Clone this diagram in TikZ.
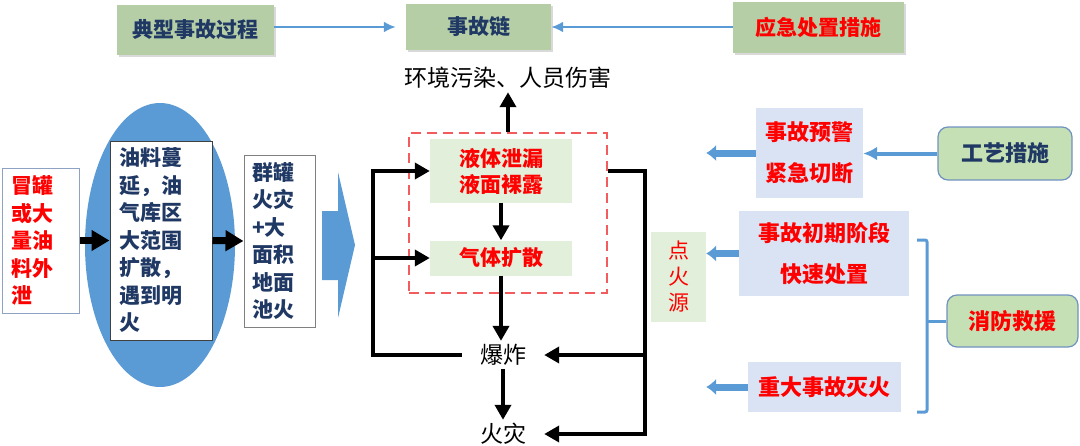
\documentclass[tikz,border=0pt]{standalone}
\usepackage{fontspec}
\setmainfont{Noto Sans CJK SC}
\usetikzlibrary{arrows.meta,shadows}
\definecolor{sage}{HTML}{B5CEA6}
\definecolor{navy}{HTML}{1F3864}
\definecolor{eblue}{HTML}{5B9BD5}
\definecolor{lgreen}{HTML}{E2EFDA}
\definecolor{lblue}{HTML}{DAE3F3}
\definecolor{rgreen}{HTML}{C5E0B4}
\definecolor{rborder}{HTML}{6F93C0}
\definecolor{dred}{HTML}{F25C5C}
\definecolor{lgrey}{HTML}{8EA2C4}

\begin{document}
\begin{tikzpicture}[x=1pt,y=-1pt,
  bf/.style={font=\fontsize{#1}{27.5}\selectfont\bfseries},
  hd/.style={fill=sage,minimum height=50pt,bf=21,drop shadow={shadow xshift=1.5pt,shadow yshift=-2pt,opacity=.3}},
  plain/.style={font=\fontsize{23}{27}\selectfont,inner xsep=18pt},
  box/.style={bf=21,align=left,inner xsep=10pt,line width=1pt},
  grn/.style={fill=lgreen,text=red,bf=21,align=center},
  lbl/.style={fill=lblue,text=red,align=center,font=\fontsize{22}{41}\selectfont\bfseries},
  rnd/.style={fill=rgreen,draw=rborder,line width=1.2pt,rounded corners=10pt,bf=22},
  blk/.style={line width=4.5pt,-{Triangle[length=15pt,width=16pt]}},
  fatblk/.style={line width=7pt,-{Triangle[length=18pt,width=20pt]}},
  bline/.style={eblue,line width=2.5pt,-{Latex[length=12pt,width=11pt]}},
  bfat/.style={eblue,line width=7pt,-{Latex[length=10pt,width=17pt]}},
  brk/.style={eblue,line width=3pt,rounded corners=2pt}]
\useasboundingbox (0,0) rectangle (1080,445);

% top row
\node[hd,minimum width=157pt,text=navy] (typ) at (195.5,30) {典型事故过程};
\node[hd,minimum width=145pt,minimum height=46pt,text=navy] (chain) at (478.5,27) {事故链};
\node[hd,minimum width=171pt,minimum height=51pt,text=red] (resp) at (818.5,27.5) {应急处置措施};
\draw[bline,shorten >=10pt] (chain.west -| typ.east) -- (chain.west);
\draw[bline] (chain.east -| resp.west) -- (chain.east);
\node[plain] (harm) at (508,78) {环境污染、人员伤害};

% left part
\fill[eblue] (160,245) ellipse (75pt and 142pt);
\node[box,draw=lgrey,text=red,minimum height=145pt,text width=57pt] (leak) at (40.5,240.5) {冒罐\\或大\\量油\\料外\\泄};
\node[box,draw=black!75,fill=white,text=navy,minimum height=199pt,text width=84pt,inner xsep=9pt] (spread) at (161,240.5) {油料蔓\\延，油\\气库区\\大范围\\扩散，\\遇到明\\火};
\node[box,draw=black!50,fill=white,text=navy,minimum height=172pt,text width=55pt,inner xsep=8pt] (pool) at (279.5,241) {群罐\\火灾\\+大\\面积\\地面\\池火};
\draw[fatblk] (leak.east) -- (spread.west);
\draw[fatblk] (spread.east) -- (pool.west);
\fill[eblue] (322,211) -- (338,211) -- (338,172) -- (355,245) -- (338,318) -- (338,280) -- (322,280) -- cycle;

% accident chain
\node[draw=dred,line width=2.5pt,dash pattern=on 10pt off 6pt,minimum width=198pt,minimum height=160pt] (dash) at (508,213) {};
\node[grn,minimum width=142pt,minimum height=64pt,font=\fontsize{21}{26}\selectfont\bfseries] (liquid) at (501,171) {液体泄漏\\液面裸露};
\node[grn,minimum width=142pt,minimum height=35pt] (gas) at (501,258) {气体扩散};
\node[plain] (boom) at (503,355) {爆炸};
\node[plain] (fire) at (503,434) {火灾};
\draw[blk] (dash.north -| harm) -- (harm.south);
\draw[blk] (liquid.south) -- (gas.north);
\draw[blk] (gas.south) -- (gas.south |- boom.north);
\draw[blk] (boom.south) -- (fire.north);
\coordinate (lx) at (373,0);
\coordinate (rx) at (645,0);
\draw[blk] (boom.west) -| (lx |- liquid.west) -- (liquid.west);
\draw[blk] (lx |- gas.west) -- (gas.west);
\draw[blk] (dash.east |- liquid.east) -| (rx |- fire.east) -- (fire.east);
\draw[blk] (rx |- boom.east) -- (boom.east);

% measures
\node[grn,minimum width=55pt,minimum height=90pt,font=\fontsize{21}{26}\selectfont] (ign) at (678.5,277) {点\\火\\源};
\node[lbl,minimum width=107pt,minimum height=90pt] (warn) at (809.5,153) {事故预警\\紧急切断};
\node[lbl,minimum width=170pt,minimum height=85pt] (early) at (824,253.5) {事故初期阶段\\快速处置};
\node[lbl,minimum width=153pt,minimum height=50pt] (big) at (824.5,387) {重大事故灭火};
\node[rnd,text=navy,minimum width=134pt,minimum height=53pt] (craft) at (1005,153.5) {工艺措施};
\node[rnd,text=red,minimum width=131pt,minimum height=52pt] (rescue) at (1012.5,321) {消防救援};
\draw[bfat] (warn.west) -- (ign.east |- warn.west);
\draw[bfat] (early.west) -- (ign.east |- early.west);
\draw[bfat] (big.west) -- (ign.east |- big.west);
\draw[bline,line width=4pt,-{Latex[length=14pt,width=14pt]}] (craft.west) -- (craft.west -| warn.east);
\coordinate (bt) at (917,240);
\draw[brk] (bt) -- ++(10,0) -- ++(0,172) -- ++(-10,0);
\draw[brk] (rescue.west) -- ++(-20,0);
\end{tikzpicture}
\end{document}
